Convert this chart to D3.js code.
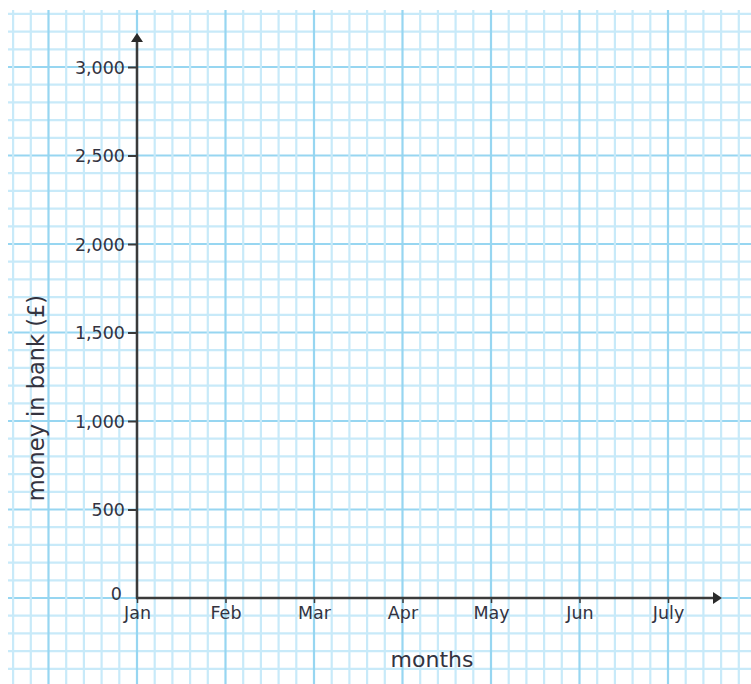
<!DOCTYPE html>
<html><head><meta charset="utf-8">
<script src="https://cdn.jsdelivr.net/npm/d3@7"></script>
<style>html,body{margin:0;padding:0;background:#fff;}svg{display:block;}</style>
</head><body>
<script>
const months = ["Jan","Feb","Mar","Apr","May","Jun","July"];
const yTicks = [0,500,1000,1500,2000,2500,3000];
const yTickLabels = ["0","500","1,000","1,500","2,000","2,500","3,000"];
const xTitle = "months";
const yTitle = "money in bank (£)";

const W = 751, H = 684;
const svg = d3.select("body").append("svg").attr("width", W).attr("height", H);

const x = d3.scaleLinear().domain([0, months.length - 1]).range([137, 668]);
const y = d3.scaleLinear().domain([0, 3000]).range([598, 67]);

// grid paper
const g = svg.append("g");
const xLeft = 8, xRight = W, yTop = 10, yBottom = H;
const vLines = d3.range(-7, 35).map(k => k / 5);       // months in fifths
const hLines = d3.range(-5, 34).map(k => k * 100);       // money in 100s
const minorCol = "#c8eaf9", majorCol = "#97d6f1";
g.selectAll("line.h").data(hLines.filter(v => y(v) >= yTop - 2)).join("line")
  .attr("x1", xLeft).attr("x2", xRight)
  .attr("y1", d => y(d)).attr("y2", d => y(d))
  .attr("stroke", d => d % 500 === 0 ? majorCol : minorCol)
  .attr("stroke-width", 2.2);
g.selectAll("line.v").data(vLines.filter(v => x(v) <= 745)).join("line")
  .attr("y1", yTop).attr("y2", yBottom)
  .attr("x1", d => x(d)).attr("x2", d => x(d))
  .attr("stroke", d => Math.abs(d - Math.round(d)) < 1e-6 ? majorCol : minorCol)
  .attr("stroke-width", 2.2);

const axisCol = "#3a3a3a";
const textCol = "#33333f";
const font = "'DejaVu Sans', sans-serif";

// y axis
const yAxis = d3.axisLeft(y).tickValues(yTicks).tickSize(9).tickPadding(3)
  .tickFormat((d, i) => yTickLabels[i]);
const ya = svg.append("g").attr("transform", `translate(${x(0)},0)`).call(yAxis);
ya.select(".domain").remove();
ya.selectAll(".tick line").attr("stroke", axisCol).attr("stroke-width", 2);
ya.selectAll(".tick text").attr("fill", textCol).attr("font-size", 17.5)
  .attr("font-family", font).attr("dy", "0.35em");
ya.selectAll(".tick").filter(d => d === 0).select("line").remove();
ya.selectAll(".tick").filter(d => d === 0).select("text").attr("dy", "0.1em").attr("x", -15);

// x axis
const xAxis = d3.axisBottom(x).tickValues(d3.range(months.length)).tickSize(5).tickPadding(4)
  .tickFormat(i => months[i]);
const xa = svg.append("g").attr("transform", `translate(0,${y(0)})`).call(xAxis);
xa.select(".domain").remove();
xa.selectAll(".tick line").attr("stroke", axisCol).attr("stroke-width", 1.5);
xa.selectAll(".tick text").attr("fill", textCol).attr("font-size", 17.5)
  .attr("font-family", font);

// axis lines with arrows
svg.append("line").attr("x1", x(0)).attr("x2", x(0)).attr("y1", y(0) + 1).attr("y2", 42)
  .attr("stroke", axisCol).attr("stroke-width", 2.5);
svg.append("path").attr("d", `M${x(0)},33 L${x(0) - 6},42 L${x(0) + 6},42 Z`).attr("fill", "#2a2a2a");
svg.append("line").attr("x1", x(0) - 1).attr("x2", 713).attr("y1", y(0)).attr("y2", y(0))
  .attr("stroke", axisCol).attr("stroke-width", 2.5);
svg.append("path").attr("d", `M722,${y(0)} L713,${y(0) - 6} L713,${y(0) + 6} Z`).attr("fill", "#2a2a2a");

// titles
svg.append("text").attr("x", 432).attr("y", 667).attr("text-anchor", "middle")
  .attr("font-family", font).attr("font-size", 22).attr("fill", textCol).text(xTitle);
svg.append("text").attr("transform", "translate(44,398) rotate(-90)").attr("text-anchor", "middle")
  .attr("font-family", font).attr("font-size", 22.5).attr("fill", textCol).text(yTitle);
</script>
</body></html>
